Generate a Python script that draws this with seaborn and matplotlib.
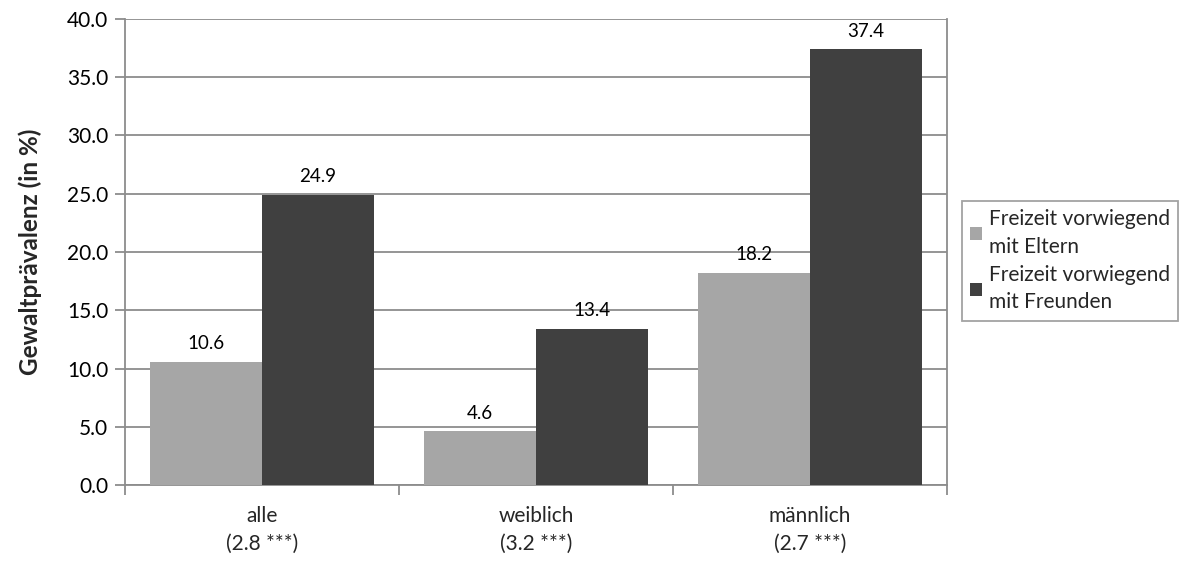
import matplotlib
matplotlib.use("Agg")
import matplotlib.pyplot as plt
import seaborn as sns
import pandas as pd

# Data
categories = ["alle\n(2.8 ***)", "weiblich\n(3.2 ***)", "männlich\n(2.7 ***)"]
series_names = ["Freizeit vorwiegend\nmit Eltern", "Freizeit vorwiegend\nmit Freunden"]
eltern = [10.6, 4.6, 18.2]
freunde = [24.9, 13.4, 37.4]
y_ticks = [0, 5, 10, 15, 20, 25, 30, 35, 40]

df = pd.DataFrame({
    "Gruppe": categories * 2,
    "Freizeit": [series_names[0]] * 3 + [series_names[1]] * 3,
    "Wert": eltern + freunde,
})

sns.set_style("white")
plt.rcParams["font.family"] = ["Lato", "DejaVu Sans"]

fig = plt.figure(figsize=(12, 5.63), dpi=100)
ax = fig.add_axes([0.1042, 0.1385, 0.6850, 0.8278])

palette = ["#A6A6A6", "#404040"]
sns.barplot(data=df, x="Gruppe", y="Wert", hue="Freizeit", order=categories,
            hue_order=series_names, palette=palette, width=0.818, gap=0,
            saturation=1, edgecolor="none", linewidth=0, ax=ax, zorder=3)

ax.set_xlim(-0.5, 2.5)
ax.set_ylim(0, 40)
ax.set_yticks(y_ticks)
ax.set_yticklabels([f"{v:.1f}" for v in y_ticks], fontsize=15, color="#000000")
ax.yaxis.grid(True, color="#8C8C8C", linewidth=1.3, zorder=0)
ax.xaxis.grid(False)
ax.set_axisbelow(True)

# category boundary ticks on x axis
ax.set_xticks([-0.5, 0.5, 1.5, 2.5], minor=False)
ax.set_xticklabels([])
ax.tick_params(axis="x", which="major", direction="out", length=7, width=1.3,
               color="#8C8C8C", bottom=True)
ax.set_xticks([0, 1, 2], minor=True)
ax.set_xticklabels(categories, minor=True, fontsize=15, linespacing=1.5)
ax.tick_params(axis="x", which="minor", length=0, pad=15)
ax.tick_params(axis="y", direction="out", length=7, width=1.3, color="#8C8C8C",
               left=True, pad=5)

ax.spines["top"].set_visible(False)
for side in ["left", "bottom", "right"]:
    ax.spines[side].set_color("#8C8C8C")
    ax.spines[side].set_linewidth(1.3)

ax.set_xlabel("")
ax.set_ylabel("Gewaltprävalenz (in %)", fontsize=17.5, fontweight="bold", labelpad=18)

for cont in ax.containers:
    for bar in cont:
        h = bar.get_height()
        ax.annotate(f"{h:.1f}", (bar.get_x() + bar.get_width() / 2, h),
                    xytext=(0, 7), textcoords="offset points",
                    ha="center", va="bottom", fontsize=13.5, color="#000000")

leg = ax.legend(loc="center left", bbox_to_anchor=(1.005, 0.481), fontsize=15,
                frameon=True, fancybox=False, edgecolor="#8C8C8C",
                handlelength=0.6, handleheight=0.6, handletextpad=0.3,
                borderpad=0.4, labelspacing=0.4)
leg.get_frame().set_linewidth(1.3)
for t in leg.get_texts():
    t.set_linespacing(1.45)

fig.savefig("out.png", dpi=100)
